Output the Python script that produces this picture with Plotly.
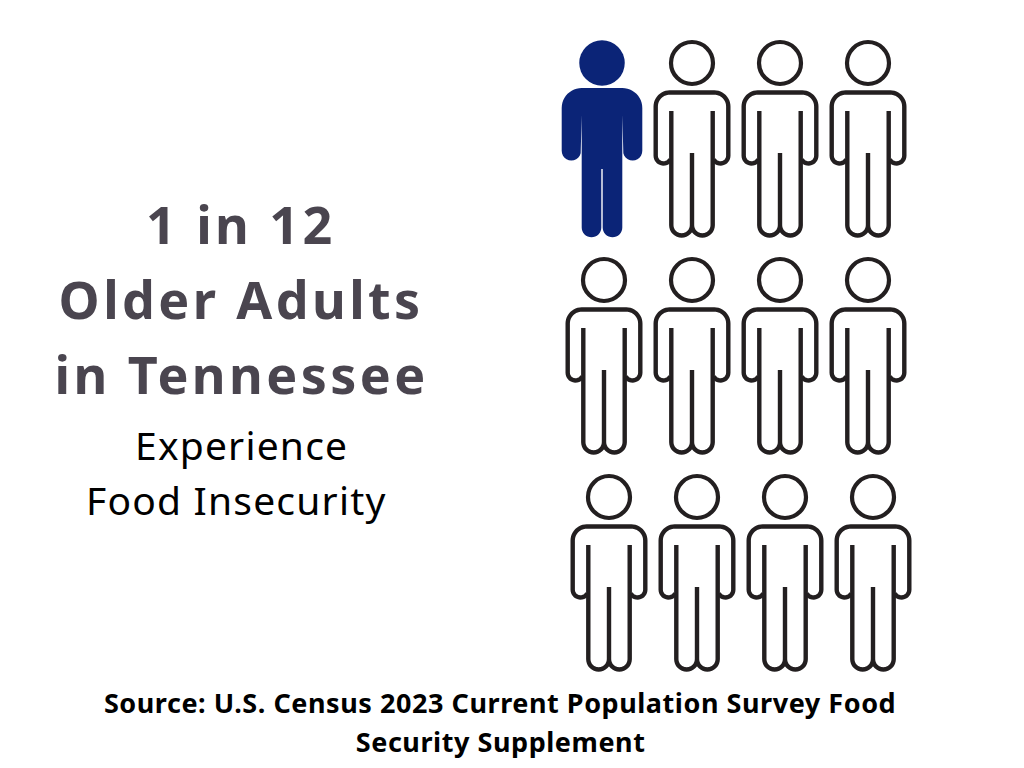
import math
import plotly.graph_objects as go

# one icon per older adult, 12 in all, 1 of them affected
rows = [0, 0, 0, 0, 1, 1, 1, 1, 2, 2, 2, 2]
cols = [0, 1, 2, 3, 0, 1, 2, 3, 0, 1, 2, 3]
affected = [1, 0, 0, 0, 0, 0, 0, 0, 0, 0, 0, 0]

headline = ["1 in 12", "Older Adults", "in Tennessee"]
subhead = ["Experience", "Food Insecurity"]
source = ["Source: U.S. Census 2023 Current Population Survey Food", "Security Supplement"]

NAVY = "#0b2477"
INK = "#231f20"
GREY = "#4a454f"

# canvas is in page pixels
COL_STEP = 88
ROW_STEP = 217
FIRST_X = [604, 604, 609]
FIRST_Y = 63


def arc(cx, cy, r, start, end, n=12):
    pts = []
    for i in range(n + 1):
        a = math.radians(start + (end - start) * i / n)
        pts.append((cx + r * math.cos(a), cy + r * math.sin(a)))
    return pts


def outline_body():
    # body drawn as open strokes, relative to head centre
    w, inner, top, arm_end, foot = 36.3, 20.7, 29.5, 100.5, 172.5
    leg_r = inner / 2
    arm_r = (w - inner) / 2
    corner = 14
    parts = []
    # arms and shoulders
    pts = arc(-w + arm_r, arm_end - arm_r, arm_r, 30, 180)
    pts += arc(-w + corner, top + corner, corner, 180, 270)
    pts += arc(w - corner, top + corner, corner, 270, 360)
    pts += arc(w - arm_r, arm_end - arm_r, arm_r, 0, 150)
    parts.append(pts)
    # legs
    pts = [(-inner, 48)]
    pts += arc(-leg_r, foot - leg_r, leg_r, 180, 0, 16)[:-1]
    pts += arc(leg_r, foot - leg_r, leg_r, 180, 0, 16)
    pts += [(inner, 48)]
    parts.append(pts)
    parts.append([(0, 90), (0, foot - leg_r)])
    return parts


def solid_body():
    w, inner, top, arm_end, foot = 40.3, 21, 25, 97.5, 175
    arm_r = (w - inner) / 2
    leg_r = inner / 2
    corner = 20
    gap = 0.7
    pts = [(-inner + gap, 52)]
    pts += arc(-w + arm_r, arm_end - arm_r, arm_r, 0, 180)[1:]
    pts += arc(-w + corner, top + corner, corner, 180, 270)
    pts += arc(w - corner, top + corner, corner, 270, 360)
    pts += arc(w - arm_r, arm_end - arm_r, arm_r, 0, 180)[:-1]
    pts += [(inner - gap, 52)]
    pts += arc(leg_r, foot - leg_r, leg_r - gap, 0, 180, 16)
    pts += [(gap, 106), (-gap, 106)]
    pts += arc(-leg_r, foot - leg_r, leg_r - gap, 0, 180, 16)
    return pts


fig = go.Figure()

line_x, line_y, head_x, head_y = [], [], [], []
for row, col, hit in zip(rows, cols, affected):
    cx = FIRST_X[row] + COL_STEP * col
    cy = FIRST_Y + ROW_STEP * row
    if hit:
        cx -= 2
        body = solid_body()
        fig.add_trace(go.Scatter(
            x=[cx + p[0] for p in body], y=[cy + p[1] for p in body],
            mode="lines", fill="toself", fillcolor=NAVY,
            line=dict(width=0, color=NAVY, simplify=False)))
        fig.add_trace(go.Scatter(
            x=[cx], y=[cy], mode="markers",
            marker=dict(size=45.5, color=NAVY, line=dict(width=0))))
    else:
        head_x.append(cx)
        head_y.append(cy)
        for part in outline_body():
            line_x += [cx + p[0] for p in part] + [None]
            line_y += [cy + p[1] for p in part] + [None]

fig.add_trace(go.Scatter(x=line_x, y=line_y, mode="lines",
                         line=dict(color=INK, width=4.4, simplify=False), connectgaps=False))
fig.add_trace(go.Scatter(x=head_x, y=head_y, mode="markers",
                         marker=dict(size=42, color="white", line=dict(color=INK, width=4.2))))

for text, y in zip(headline, [223, 298, 373]):
    fig.add_annotation(x=241, y=y, text=f"<b>{text}</b>", showarrow=False,
                       font=dict(family="Noto Sans", size=52, color=GREY))
for text, x, y in zip(subhead, [241, 236], [444, 499]):
    fig.add_annotation(x=x, y=y, text=text, showarrow=False,
                       font=dict(family="Noto Sans", size=39, color="black"))
for text, y in zip(source, [702, 741]):
    fig.add_annotation(x=500, y=y, text=f"<b>{text}</b>", showarrow=False,
                       font=dict(family="Noto Sans", size=27, color="black"))

fig.update_xaxes(range=[0, 1024], visible=False)
fig.update_yaxes(range=[768, 0], visible=False)
fig.update_layout(width=1024, height=768, margin=dict(l=0, r=0, t=0, b=0),
                  paper_bgcolor="white", plot_bgcolor="white",
                  showlegend=False, hovermode=False)

# drop the page margin and spread the letters, plotly has no setting for it
post = """
document.body.style.margin = '0';
var spacing = {'52px': '3.4px', '39px': '1.2px', '27px': '0.55px'};
document.querySelectorAll('.annotation-text').forEach(function (t) {
  t.style.letterSpacing = spacing[t.style.fontSize] || '0';
});
"""
fig.write_html("out.html", post_script=post, config={"displayModeBar": False})
